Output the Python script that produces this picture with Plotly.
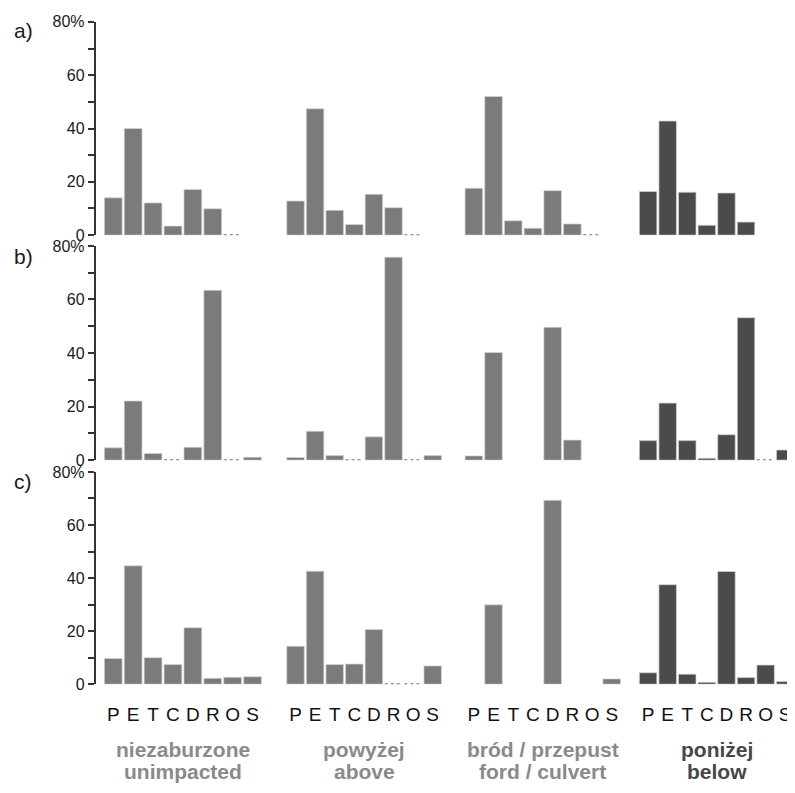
import plotly.graph_objects as go

# ---------------- data ----------------
categories = ["P", "E", "T", "C", "D", "R", "O", "S"]
groups_pl = ["niezaburzone", "powyżej", "bród / przepust", "poniżej"]
groups_en = ["unimpacted", "above", "ford / culvert", "below"]
panel_labels = ["a)", "b)", "c)"]
y_tickvals = [0, 10, 20, 30, 40, 50, 60, 70, 80]
y_ticktext = ["0", "", "20", "", "40", "", "60", "", "80%"]

# None = no bar, 0 = zero (drawn as dotted baseline)
a_unimpacted = [14.0, 40.0, 12.1, 3.4, 17.1, 9.9, 0, None]
a_above      = [12.8, 47.4, 9.3, 4.0, 15.3, 10.3, 0, None]
a_ford       = [17.6, 52.0, 5.4, 2.6, 16.7, 4.2, 0, None]
a_below      = [16.4, 42.8, 16.1, 3.7, 15.8, 4.9, None, None]

b_unimpacted = [4.6, 22.1, 2.5, 0, 4.8, 63.4, 0, 1.1]
b_above      = [1.0, 10.8, 1.7, 0, 8.7, 75.8, 0, 1.7]
b_ford       = [1.6, 40.2, None, None, 49.6, 7.5, None, None]
b_below      = [7.3, 21.3, 7.3, 0.7, 9.5, 53.2, 0, 3.8]

c_unimpacted = [9.7, 44.6, 10.0, 7.4, 21.3, 2.2, 2.6, 2.8]
c_above      = [14.3, 42.6, 7.4, 7.6, 20.6, 0, 0, 6.9]
c_ford       = [None, 29.9, None, None, 69.3, None, None, 2.0]
c_below      = [4.3, 37.5, 3.8, 0.7, 42.5, 2.5, 7.2, 1.0]

panels = [
    [a_unimpacted, a_above, a_ford, a_below],
    [b_unimpacted, b_above, b_ford, b_below],
    [c_unimpacted, c_above, c_ford, c_below],
]

# ---------------- styling / layout ----------------
OFF = 8                      # page body margin of the html page
W, H = 795 - OFF, 793 - OFF  # figure size so that it ends at the window edge
FONT = "Liberation Sans, Arial, sans-serif"
bar_colors = ["#7b7b7b", "#7b7b7b", "#7b7b7b", "#4b4b4b"]
label_colors = ["#8a8a8a", "#8a8a8a", "#8a8a8a", "#474747"]
BARGAP = 0.107

col_px = [(103.3, 262.5), (285.7, 442.5), (464.0, 621.6), (638.3, 795.0)]
row_px = [(14, 232), (243, 462), (474, 691)]


def fx(p):
    return (p - OFF) / W


def fy(p):
    return 1 - (p - OFF) / H


fig = go.Figure()
layout = dict(
    width=W, height=H,
    margin=dict(l=0, r=0, t=0, b=0),
    paper_bgcolor="white", plot_bgcolor="white",
    showlegend=False, bargap=BARGAP,
    font=dict(family=FONT, color="#222"),
)
annotations = []
half = (1 - BARGAP) / 2

for r in range(3):
    for c in range(4):
        k = r * 4 + c + 1
        xs = "x" if k == 1 else f"x{k}"
        ys = "y" if k == 1 else f"y{k}"
        xname = "xaxis" if k == 1 else f"xaxis{k}"
        yname = "yaxis" if k == 1 else f"yaxis{k}"
        vals = panels[r][c]
        idx = list(range(len(categories)))
        bar_y = [v if v else None for v in vals]
        fig.add_trace(go.Bar(
            x=idx, y=bar_y, xaxis=xs, yaxis=ys,
            marker=dict(color=bar_colors[c], line=dict(color="#d4d4d4", width=0.7)),
            hoverinfo="skip",
        ))
        dx, dy = [], []
        for i, v in enumerate(vals):
            if v == 0:
                dx += [i - half, i + half, None]
                dy += [0, 0, None]
        if dx:
            fig.add_trace(go.Scatter(
                x=dx, y=dy, xaxis=xs, yaxis=ys, mode="lines",
                line=dict(color="#777777", width=1.8, dash="dot"),
                cliponaxis=False, hoverinfo="skip",
            ))
        layout[xname] = dict(
            domain=[fx(col_px[c][0]), min(1.0, fx(col_px[c][1]))],
            anchor=ys, range=[-0.5, 7.5], tickmode="array",
            tickvals=idx, ticktext=categories,
            showticklabels=(r == 2), ticks="outside" if r == 2 else "",
            ticklen=13, tickcolor="rgba(0,0,0,0)",
            tickfont=dict(family=FONT, size=19, color="#111"),
            showline=False, showgrid=False, zeroline=False, fixedrange=True,
        )
        yax = dict(
            domain=[fy(row_px[r][1]), fy(row_px[r][0])],
            range=[0, 80], showgrid=False, zeroline=False, fixedrange=True,
        )
        if c == 0:
            yax.update(
                anchor="free", position=fx(94.5),
                tickmode="array", tickvals=y_tickvals, ticktext=y_ticktext,
                ticks="outside", ticklen=6, tickwidth=1.5, tickcolor="#333",
                showline=True, linewidth=1.5, linecolor="#333",
                tickfont=dict(family=FONT, size=16, color="#1a1a1a"),
            )
        else:
            yax.update(anchor=xs, showticklabels=False, showline=False, ticks="")
        layout[yname] = yax

# panel letters
for r, lab in enumerate(panel_labels):
    yc = [23, 254, 484][r]
    annotations.append(dict(
        text=lab, x=fx(23), y=fy(yc), xref="paper", yref="paper",
        xanchor="center", yanchor="middle", showarrow=False,
        font=dict(family=FONT, size=21, color="#1a1a1a"),
    ))

# group labels
for c in range(4):
    xc = fx((col_px[c][0] + col_px[c][1]) / 2)
    for txt, yc in ((groups_pl[c], 758), (groups_en[c], 780)):
        annotations.append(dict(
            text=f"<b>{txt}</b>", x=xc, y=fy(yc), xref="paper", yref="paper",
            xanchor="center", yanchor="middle", showarrow=False,
            font=dict(family=FONT, size=21, color=label_colors[c]),
        ))

layout["annotations"] = annotations
fig.update_layout(**layout)
fig.write_html("out.html")
